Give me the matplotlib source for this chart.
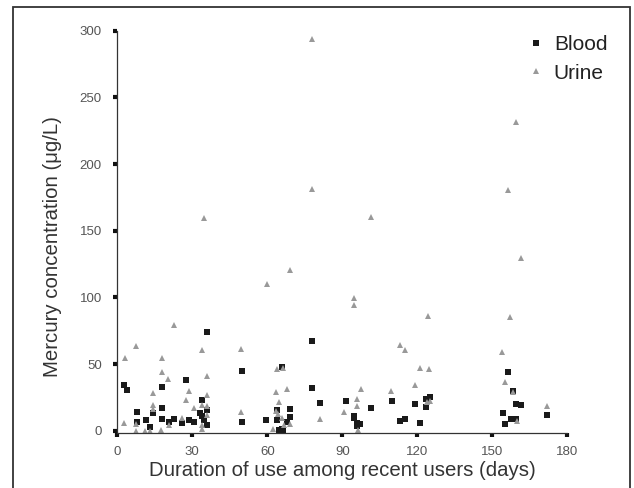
import matplotlib.pyplot as plt
from matplotlib.patches import Rectangle

# duration of use (days) and mercury concentration (ug/L)
blood_days = [2.6, 3.8, 7.8, 7.8, 11.4, 13.1, 14.2, 17.8, 17.8, 17.8, 20.5, 22.6,
              25.8, 27.5, 28.6, 30.6, 33.8, 33.0, 33.8, 35.8, 34.8, 35.9, 35.8,
              49.9, 49.9, 59.4, 63.8, 63.8, 65.9, 69.1, 69.1, 67.7, 65.8, 64.8, 66.4,
              77.8, 77.8, 81.0, 91.5, 101.4, 109.8, 119.0, 123.5, 125.1, 123.5,
              94.6, 94.7, 95.7, 97.1, 95.8, 113.1, 115.1, 121.1,
              156.2, 158.2, 159.4, 161.5, 154.2, 157.4, 159.5, 155.0, 171.8]
blood_conc = [34.5, 30.8, 14.3, 6.5, 8.3, 3.0, 13.4, 33.0, 17.3, 8.9, 6.6, 8.9,
              5.8, 38.2, 8.3, 6.6, 23.0, 13.5, 10.8, 15.5, 7.8, 4.5, 74.0,
              45.0, 6.8, 8.3, 8.3, 15.5, 47.7, 16.4, 10.0, 6.6, 1.0, 0.5, 0.5,
              67.3, 32.3, 21.0, 22.5, 17.3, 22.5, 20.2, 23.8, 25.3, 18.0,
              11.3, 9.8, 6.0, 5.2, 3.5, 7.4, 8.8, 5.9,
              44.3, 30.0, 20.3, 19.4, 13.5, 8.9, 8.9, 5.3, 12.0]

urine_days = [3.1, 7.6, 22.8, 17.9, 17.7, 20.4, 33.7, 35.8, 28.7, 27.5, 14.2, 35.8,
              30.8, 14.3, 14.3, 33.8, 36.0, 36.0, 25.9, 2.7, 7.5, 20.5, 7.5, 11.1,
              13.2, 17.6, 33.9, 33.8, 34.8,
              59.8, 69.1, 49.5, 49.5, 63.8, 66.3, 63.5, 68.0, 64.8, 63.5, 64.2, 65.8,
              66.7, 69.2, 62.3, 80.9, 78.0, 78.0,
              94.7, 94.7, 101.5, 124.2, 113.1, 115.1, 121.1, 124.8, 97.4, 109.5, 119.0,
              95.8, 95.9, 90.8, 123.7, 125.0, 96.1,
              159.4, 156.4, 161.6, 157.2, 153.9, 155.1, 158.2, 159.7, 172.0]
urine_conc = [54.3, 63.6, 79.2, 54.9, 44.2, 38.8, 60.8, 40.8, 29.5, 23.2, 28.0, 27.0,
              17.0, 19.0, 16.0, 19.2, 18.5, 11.9, 9.4, 5.5, 5.0, 4.0, 0.0, 0.0,
              0.0, 0.3, 1.2, 4.5, 159.7,
              110.0, 120.4, 61.5, 14.4, 46.3, 46.8, 28.8, 31.0, 21.3, 14.9, 12.2, 9.3,
              4.3, 4.8, 1.2, 8.9, 293.5, 181.3,
              99.7, 94.2, 160.4, 85.9, 64.3, 60.2, 47.3, 46.3, 31.2, 29.9, 34.2,
              23.7, 18.2, 14.3, 21.5, 22.5, 0.5,
              231.5, 180.5, 129.3, 85.4, 58.8, 36.4, 28.9, 7.3, 18.4]

x_ticks = [0, 30, 60, 90, 120, 150, 180]
x_tick_labels = ['0', '30', '60', '90', '120', '150', '180']
y_ticks = [0, 50, 100, 150, 200, 250, 300]
y_tick_labels = ['0', '50', '100', '150', '200', '250', '300']

plt.rcParams['font.family'] = ['Liberation Sans', 'DejaVu Sans']

fig = plt.figure(figsize=(6.34, 4.88), dpi=100)
ax = fig.add_axes([0.185, 0.1119, 0.7098, 0.8252])

# outer frame around the figure (bottom edge falls outside the image)
fig.patches.append(Rectangle((0.021, -0.05), 0.9727, 1.035, transform=fig.transFigure,
                             fill=False, edgecolor='#333333', linewidth=1.3))

ax.plot(blood_days, blood_conc, 's', color='#1a1a1a', markersize=4.4,
        markeredgewidth=0, clip_on=False, label='Blood')
ax.plot(urine_days, urine_conc, '^', color='#999999', markersize=4.2,
        markeredgewidth=0, clip_on=False, label='Urine')

ax.set_xlim(0, 180)
ax.set_ylim(-2, 300)
ax.set_xticks(x_ticks)
ax.set_xticklabels(x_tick_labels)
ax.set_yticks(y_ticks)
ax.set_yticklabels(y_tick_labels)

for side in ['top', 'right']:
    ax.spines[side].set_visible(False)
for side in ['left', 'bottom']:
    ax.spines[side].set_linewidth(0.9)
    ax.spines[side].set_color('#333333')

# ticks drawn as short, thick squares like the original
ax.tick_params(axis='both', direction='out', length=3.2, width=3.0,
               color='#111111', labelsize=9.5, labelcolor='#555555')
ax.tick_params(axis='y', pad=8)
ax.tick_params(axis='x', pad=6)

ax.set_xlabel('Duration of use among recent users (days)', fontsize=14.7,
              color='#333333')
ax.xaxis.set_label_coords(0.5, -0.068)
ax.set_ylabel('Mercury concentration (\u03bcg/L)', fontsize=14.7, color='#333333')
ax.yaxis.set_label_coords(-0.123, 0.465)

leg = ax.legend(loc='upper left', bbox_to_anchor=(0.875, 1.035), frameon=False,
                fontsize=15, markerscale=0.9, handlelength=0.6,
                handletextpad=0.55, labelspacing=0.45)
for t in leg.get_texts():
    t.set_color('#222222')

fig.savefig('out.png', dpi=100)
